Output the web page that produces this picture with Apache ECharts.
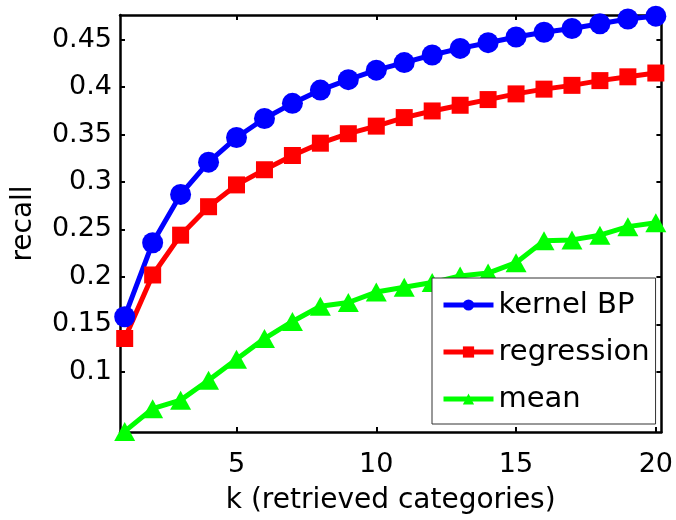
<!DOCTYPE html>
<html>
<head>
<meta charset="utf-8">
<script src="https://cdn.jsdelivr.net/npm/echarts@6/dist/echarts.min.js"></script>
<style>
html,body{margin:0;padding:0;background:#fff;}
#chart{width:676px;height:520px;}
</style>
</head>
<body>
<div id="chart"></div>
<script>
const kValues = [1,2,3,4,5,6,7,8,9,10,11,12,13,14,15,16,17,18,19,20];
const kernelBP = [0.158,0.236,0.287,0.321,0.347,0.367,0.383,0.397,0.408,0.418,0.426,0.434,0.441,0.447,0.453,0.458,0.462,0.467,0.472,0.475];
const regression = [0.135,0.202,0.244,0.274,0.297,0.313,0.328,0.341,0.351,0.359,0.368,0.375,0.381,0.387,0.393,0.398,0.402,0.407,0.411,0.415];
const meanVals = [0.037,0.061,0.070,0.091,0.113,0.135,0.153,0.169,0.173,0.184,0.189,0.194,0.201,0.204,0.215,0.238,0.239,0.244,0.253,0.257];
const xTicks = [5,10,15,20];
const yTicks = [0.1,0.15,0.2,0.25,0.3,0.35,0.4,0.45];
const seriesNames = ['kernel BP','regression','mean'];

const FONT = 'DejaVu Sans';
const xMin = 0.832, xMax = 20.2, yMin = 0.0364, yMax = 0.4762;

function pairs(vals){ return kValues.map((k,i)=>[k, vals[i]]); }

const chart = echarts.init(document.getElementById('chart'), null, {renderer:'canvas'});
const axisLine = {show:true, onZero:false, lineStyle:{color:'#000', width:2.5}};
const tick = {show:true, inside:true, length:5, lineStyle:{color:'#000', width:2}};

chart.setOption({
  backgroundColor:'#fff',
  animation:false,
  grid:{left:120, right:14, top:15, bottom:85, containLabel:false},
  xAxis:[{
    type:'value', min:xMin, max:xMax, position:'bottom',
    axisLine:axisLine,
    axisTick:Object.assign({customValues:xTicks}, tick),
    axisLabel:{customValues:xTicks, fontFamily:FONT, fontSize:27, color:'#000', margin:19,
      formatter:v=>String(Math.round(v))},
    splitLine:{show:false},
    name:'k (retrieved categories)', nameLocation:'middle', nameGap:55,
    nameTextStyle:{fontFamily:FONT, fontSize:28, color:'#000'}
  },{
    type:'value', min:xMin, max:xMax, position:'top',
    axisLine:axisLine,
    axisTick:Object.assign({customValues:xTicks}, tick),
    axisLabel:{show:false}, splitLine:{show:false}
  }],
  yAxis:[{
    type:'value', min:yMin, max:yMax, position:'left',
    axisLine:axisLine,
    axisTick:Object.assign({customValues:yTicks}, tick),
    axisLabel:{customValues:yTicks, fontFamily:FONT, fontSize:27, color:'#000', margin:8,
      formatter:v=>String(+v.toFixed(2))},
    splitLine:{show:false},
    name:'recall', nameLocation:'middle', nameGap:82, nameRotate:90,
    nameTextStyle:{fontFamily:FONT, fontSize:28, color:'#000'}
  },{
    type:'value', min:yMin, max:yMax, position:'right',
    axisLine:axisLine,
    axisTick:Object.assign({customValues:yTicks}, tick),
    axisLabel:{show:false}, splitLine:{show:false}
  }],
  legend:{
    data:seriesNames, orient:'vertical', left:432, top:278,
    padding:[12,6,10,9], itemGap:17, itemWidth:50, itemHeight:14,
    backgroundColor:'#fff', borderColor:'#333', borderWidth:1,
    textStyle:{fontFamily:FONT, fontSize:29, color:'#000', lineHeight:30},
    lineStyle:{width:5}
  },
  series:[{
    name:'kernel BP', type:'line', data:pairs(kernelBP), clip:false,
    symbol:'circle', symbolSize:21,
    lineStyle:{color:'#0000ff', width:5}, itemStyle:{color:'#0000ff'}
  },{
    name:'regression', type:'line', data:pairs(regression), clip:false,
    symbol:'rect', symbolSize:17,
    lineStyle:{color:'#ff0000', width:5}, itemStyle:{color:'#ff0000'}
  },{
    name:'mean', type:'line', data:pairs(meanVals), clip:false,
    symbol:'triangle', symbolSize:[21,19],
    lineStyle:{color:'#00ff00', width:5}, itemStyle:{color:'#00ff00'}
  }]
});
</script>
</body>
</html>
